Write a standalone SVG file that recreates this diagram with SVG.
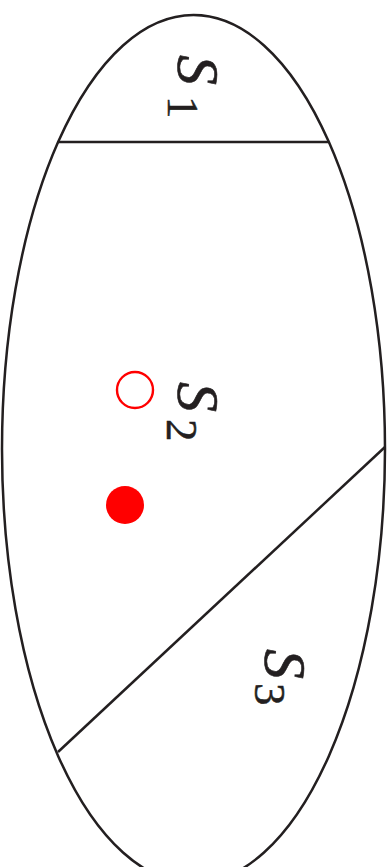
<svg xmlns="http://www.w3.org/2000/svg" width="391" height="867" viewBox="0 0 391 867">
<style>
.ln{fill:none;stroke:#231f20;stroke-width:2.5}
.s{font-family:"Liberation Serif",serif;font-style:italic;font-size:60px;fill:#231f20;stroke:#231f20;stroke-width:0.6}
.n{font-family:"Liberation Serif",serif;font-size:45px;fill:#231f20;stroke:#231f20;stroke-width:0.5}
</style>
<rect width="391" height="867" fill="#fff"/>
<g id="shape">
<ellipse class="ln" cx="193.5" cy="449" rx="191.5" ry="434"/>
<line class="ln" x1="58" y1="142" x2="329" y2="142"/>
<line class="ln" x1="385" y1="447" x2="58" y2="752"/>
</g>
<g id="points">
<circle cx="135" cy="390" r="18" fill="none" stroke="#ff0000" stroke-width="2.4"/>
<circle cx="125" cy="505" r="19" fill="#ff0000"/>
</g>
<g id="labels">
<text class="s" transform="translate(178,55) rotate(90)">S</text>
<text class="n" transform="translate(168,96) rotate(90)">1</text>
<text class="s" transform="translate(178,382) rotate(90)">S</text>
<text class="n" transform="translate(167,419) rotate(90)">2</text>
<text class="s" transform="translate(265,649) rotate(90)">S</text>
<text class="n" transform="translate(255,683) rotate(90)">3</text>
</g>
</svg>
